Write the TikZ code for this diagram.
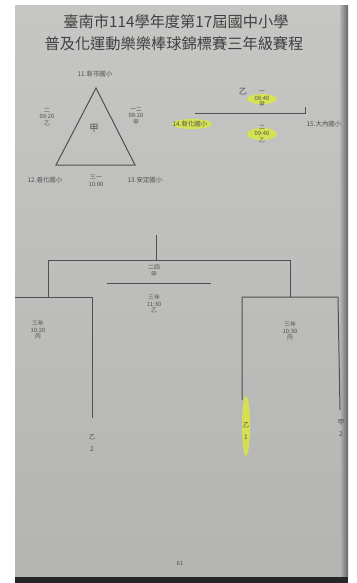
\documentclass[tikz,border=0pt]{standalone}
\usepackage{fontspec}
\newfontfamily\cjk{Noto Sans CJK TC}
\usetikzlibrary{positioning}

\definecolor{paperlight}{HTML}{C6C6C4}
\definecolor{paperdark}{HTML}{B4B4B2}
\definecolor{inkgray}{HTML}{505050}
\definecolor{marker}{HTML}{DCEB3A}

\tikzset{
  ink/.style={draw=inkgray, line width=0.3mm},
  titletext/.style={inner sep=0pt, text=black!75, font=\cjk\fontsize{13}{16}\selectfont},
  lbl/.style={inner sep=0pt, text=inkgray, font=\cjk\fontsize{5}{5.5}\selectfont, align=center},
  team/.style={inner sep=0pt, text=inkgray, font=\cjk\fontsize{5.5}{6}\selectfont, align=center},
  pen/.style={fill=marker, opacity=0.8}
}

\begin{document}
\begin{tikzpicture}[x=0.3mm, y=-0.3mm]
  \useasboundingbox (0,0) rectangle (357,583);
  % paper
  \fill[white] (0,0) rectangle (357,583);
  \shade[top color=paperlight, bottom color=paperdark] (15,5) rectangle (344,578);
  \shade[left color=paperdark, right color=black!60] (340,5) rectangle (348,578);
  \fill[black!85] (15,577) rectangle (348,583);

  % title
  \node[titletext] (T1) at (176,22) {臺南市114學年度第17屆國中小學};
  \node[titletext] (T2) at (174,44) {普及化運動樂樂棒球錦標賽三年級賽程};

  % group A (triangle)
  \coordinate (A1) at (96,88);
  \coordinate (A2) at (56,165);
  \coordinate (A3) at (135,165);
  \draw[ink] (A1) -- (A2) -- (A3) -- cycle;
  \node[team] (P11) at (95,74) {11.新市國小};
  \node[team] (P12) at (45,180) {12.善化國小};
  \node[team] (P13) at (145,180) {13.安定國小};
  \node[inner sep=0pt, text=inkgray, font=\cjk\fontsize{8}{9}\selectfont] (GA) at (94,128) {甲};
  \node[lbl] (MA1) at (47,117) {二\\09:20\\乙};
  \node[lbl] (MA2) at (136,116) {一二\\08:20\\甲};
  \node[lbl] (MA3) at (96,181) {三一\\10:00};

  % group B (line)
  \fill[pen] (262,99) ellipse (15 and 5);
  \fill[pen] (262,134) ellipse (15 and 6);
  \fill[pen] (192,124) ellipse (20 and 5);
  \coordinate (B1) at (195,113);
  \coordinate (B2) at (305,113);
  \coordinate (B3) at (305,107);
  \draw[ink, line width=0.25mm] (B1) -- (B2) -- (B3);
  \node[team] (P14) at (190,124) {14.新化國小};
  \node[team] (P15) at (324,124) {15.大內國小};
  \node[inner sep=0pt, text=inkgray, font=\cjk\fontsize{7}{8}\selectfont] (GB) at (243,92) {乙};
  \node[lbl] (MB1) at (262,99) {一\\08:40\\甲};
  \node[lbl] (MB2) at (262,134) {二\\09:40\\乙};

  % final bracket
  \coordinate (K0) at (156,235);
  \coordinate (K1) at (156,260);
  \coordinate (KL) at (48,260);
  \coordinate (KR) at (290,260);
  \coordinate (KLb) at (48,297);
  \coordinate (KRb) at (290,297);
  \draw[ink] (K0) -- (K1);
  \draw[ink] (KLb) -- (KL) -- (KR) -- (KRb);

  % third place line
  \coordinate (M1) at (107,283);
  \coordinate (M2) at (211,283);
  \draw[ink] (M1) -- (M2);
  \node[lbl] (MF) at (154,271) {二四\\甲};
  \node[lbl] (MT) at (154,304) {三年\\11:30\\乙};

  % semifinal left
  \coordinate (S1a) at (15,297);
  \coordinate (S1b) at (92,297);
  \coordinate (S1c) at (92,418);
  \draw[ink] (S1a) -- (S1b) -- (S1c);
  \node[lbl] (MS1) at (38,330) {三年\\10:20\\丙};
  \node[team] (E1) at (92,443) {乙\\[4pt]2};

  % semifinal right
  \fill[pen] (246,426) ellipse (4 and 30);
  \coordinate (S2a) at (242,400);
  \coordinate (S2b) at (242,297);
  \coordinate (S2c) at (338,297);
  \coordinate (S2d) at (340,410);
  \draw[ink] (S2a) -- (S2b) -- (S2c) -- (S2d);
  \node[lbl] (MS2) at (290,331) {三年\\10:30\\丙};
  \node[team] (E2) at (246,431) {乙\\[4pt]1};
  \node[team] (E3) at (341,428) {甲\\[4pt]2};

  % page number
  \node[lbl] (PG) at (180,563) {61};
\end{tikzpicture}
\end{document}
